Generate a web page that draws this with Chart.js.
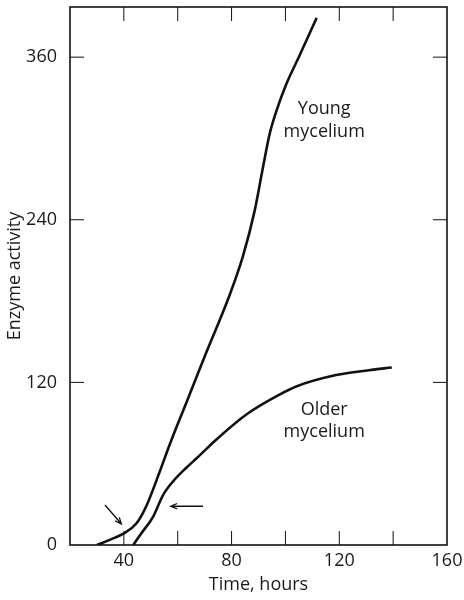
<!DOCTYPE html>
<html>
<head>
<meta charset="utf-8">
<script src="https://cdn.jsdelivr.net/npm/chart.js@4.4.1/dist/chart.umd.min.js"></script>
<style>
  html, body { margin: 0; padding: 0; background: #fff; }
  #wrap { width: 464px; height: 600px; }
</style>
</head>
<body>
<div id="wrap"><canvas id="chart"></canvas></div>
<script>
// enzyme activity vs time for the two mycelium ages
const youngHours    = [30, 35, 40, 44.7, 48.4, 53.3, 57, 63.2, 70.6, 79, 84.2, 88.5, 91.6, 94.1, 96.6, 100.3, 105.2, 111.6];
const youngActivity = [0, 4, 8.6, 16, 29, 54, 74, 105, 142, 183, 213, 246, 278, 303, 320, 340, 361, 389];
const olderHours    = [43.5, 46.5, 50.9, 54.6, 58.3, 63.2, 67, 75, 86, 97.8, 104, 118.8, 131, 139.5];
const olderActivity = [0, 8.6, 21, 37, 47, 57, 64, 79, 97, 111, 117, 125.4, 129, 131];

const xLabelTicks = [40, 80, 120, 160];
const xMarkTicks = [40, 60, 80, 100, 120, 140];
const yTicks = [0, 120, 240, 360];

const INK = '#111';
const FONT = "'Open Sans', sans-serif";

// frame, inward tick marks, curve labels and arrows
const decor = {
  id: 'decor',
  afterDraw(chart) {
    const { ctx, chartArea: a, scales: { x, y } } = chart;
    const tick = 14;
    ctx.save();
    ctx.strokeStyle = INK;
    ctx.lineWidth = 1.6;
    ctx.strokeRect(a.left, a.top, a.right - a.left, a.bottom - a.top);

    ctx.lineWidth = 1;
    ctx.beginPath();
    xMarkTicks.forEach(v => {
      const px = x.getPixelForValue(v);
      ctx.moveTo(px, a.bottom); ctx.lineTo(px, a.bottom - tick);
      ctx.moveTo(px, a.top); ctx.lineTo(px, a.top + tick);
    });
    yTicks.filter(v => v > 0).forEach(v => {
      const py = y.getPixelForValue(v);
      ctx.moveTo(a.left, py); ctx.lineTo(a.left + tick, py);
      ctx.moveTo(a.right, py); ctx.lineTo(a.right - tick, py);
    });
    ctx.stroke();

    ctx.fillStyle = '#1a1a1a';
    ctx.font = '18px ' + FONT;
    ctx.textAlign = 'center';
    ctx.textBaseline = 'middle';
    const label = (txt, hx, act) => ctx.fillText(txt, x.getPixelForValue(hx), y.getPixelForValue(act));
    label('Young', 114.4, 322);
    label('mycelium', 114.4, 304.5);
    label('Older', 114.4, 99.6);
    label('mycelium', 114.4, 83.4);

    const arrow = (x0, y0, x1, y1) => {
      const ax = x.getPixelForValue(x0), ay = y.getPixelForValue(y0);
      const bx = x.getPixelForValue(x1), by = y.getPixelForValue(y1);
      const ang = Math.atan2(by - ay, bx - ax);
      const h = 7;
      ctx.lineWidth = 1.3;
      ctx.beginPath();
      ctx.moveTo(ax, ay); ctx.lineTo(bx, by);
      ctx.moveTo(bx - h * Math.cos(ang - 0.4), by - h * Math.sin(ang - 0.4));
      ctx.lineTo(bx, by);
      ctx.lineTo(bx - h * Math.cos(ang + 0.4), by - h * Math.sin(ang + 0.4));
      ctx.stroke();
    };
    arrow(33, 29.5, 39.1, 15.5);
    arrow(69.4, 28.6, 57.4, 28.6);
    ctx.restore();
  }
};

const line = (hours, act) => ({
  data: hours.map((h, i) => ({ x: h, y: act[i] })),
  borderColor: INK,
  borderWidth: 2.6,
  pointRadius: 0,
  fill: false,
  cubicInterpolationMode: 'monotone'
});

// let layout.padding alone decide the plot edges
const noEdgePad = s => { s.paddingTop = 0; s.paddingBottom = 0; s.paddingLeft = 0; s.paddingRight = 0; };

new Chart(document.getElementById('chart'), {
  type: 'line',
  data: {
    datasets: [line(youngHours, youngActivity), line(olderHours, olderActivity)]
  },
  options: {
    responsive: true,
    maintainAspectRatio: false,
    animation: false,
    layout: { padding: { top: 7, right: 17, left: 0, bottom: 0 } },
    plugins: { legend: { display: false }, tooltip: { enabled: false } },
    scales: {
      x: {
        type: 'linear',
        min: 20,
        max: 160,
        afterBuildTicks: s => { s.ticks = xLabelTicks.map(v => ({ value: v })); },
        afterFit: s => { s.height = 55; noEdgePad(s); },
        grid: { display: false },
        border: { display: false },
        ticks: { color: '#1a1a1a', font: { family: FONT, size: 18 }, padding: -3, maxRotation: 0 },
        title: { display: true, text: 'Time, hours', color: '#1a1a1a', font: { family: FONT, size: 18 } }
      },
      y: {
        min: 0,
        max: 397,
        afterBuildTicks: s => { s.ticks = yTicks.map(v => ({ value: v })); },
        afterFit: s => { s.width = 70; noEdgePad(s); },
        grid: { display: false },
        border: { display: false },
        ticks: { color: '#1a1a1a', font: { family: FONT, size: 18 }, padding: 5 },
        title: { display: true, text: 'Enzyme activity', color: '#1a1a1a', font: { family: FONT, size: 18 } }
      }
    }
  },
  plugins: [decor]
});
</script>
</body>
</html>
